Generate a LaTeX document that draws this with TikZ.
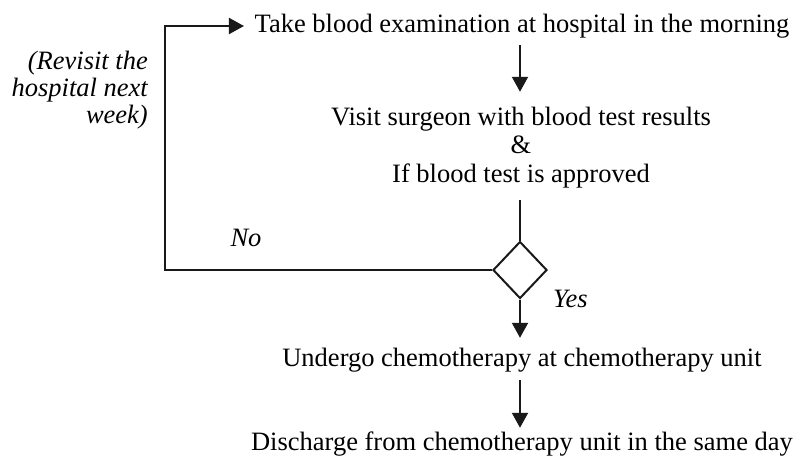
\documentclass[tikz,border=0pt]{standalone}
\usepackage{fontspec}
\setmainfont{Liberation Serif}
\usetikzlibrary{arrows.meta,shapes.geometric}
\begin{document}
\begin{tikzpicture}[x=1pt,y=-1pt,
  every node/.style={font=\fontsize{26.5}{28.5}\selectfont, inner sep=0pt},
  stepline/.style={line width=2pt, draw=black!90},
  arr/.style={stepline, -{Triangle[length=15pt,width=16pt]}},
  steptext/.style={anchor=base, text height=18.5pt, text depth=6.5pt},
  note/.style={font=\fontsize{26.5}{27}\selectfont\itshape},
  decision/.style={diamond, draw=black!90, line width=2pt, minimum width=54pt, minimum height=57pt, inner sep=0pt}]
\useasboundingbox (0,0) rectangle (798,469);

% steps of the treatment cycle
\node[steptext] (t1) at (522,32) {Take blood examination at hospital in the morning};
\node[align=center] (t2) at (521,147.2) {Visit surgeon with blood test results\\ \&\\ If blood test is approved};
\node[decision] (d) at (520,270) {};
\node[steptext] (t3) at (522,366) {Undergo chemotherapy at chemotherapy unit};
\node[steptext] (t4) at (522,450) {Discharge from chemotherapy unit in the same day};

% branch labels and the note on the return path
\node[note, anchor=base] (no) at (246,246) {No};
\node[note, anchor=base west] (yes) at (553,307) {Yes};
\node[note, align=right, anchor=base east] (rv) at (148,123) {(Revisit the\\ hospital next\\ week)};

% return path corner
\coordinate (cb) at (165,270);

% connectors, all on the vertical axis through the decision
\draw[arr, shorten <=6.5pt, shorten >=14.7pt] (t1.south -| d.north) -- (t2.north -| d.north);
\draw[stepline, shorten <=12.2pt] (t2.south -| d.north) -- (d.north);
\draw[arr, shorten >=9.5pt] (d.south) -- (t3.north -| d.south);
\draw[arr, shorten <=7.5pt, shorten >=3.5pt] (t3.south -| d.south) -- (t4.north -| d.south);
\draw[arr, shorten >=10.5pt] (d.west) -- (cb) |- (t1.west);
\end{tikzpicture}
\end{document}
